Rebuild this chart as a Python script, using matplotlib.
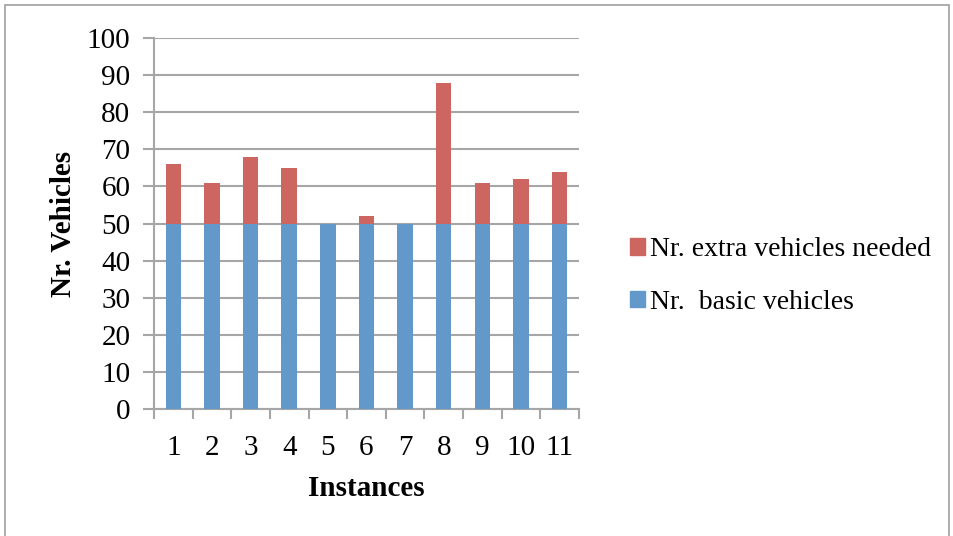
import matplotlib
matplotlib.use("Agg")
import matplotlib.pyplot as plt
from matplotlib.patches import Rectangle, Patch
import numpy as np

instances = ["1", "2", "3", "4", "5", "6", "7", "8", "9", "10", "11"]
basic_vehicles = [50, 50, 50, 50, 50, 50, 50, 50, 50, 50, 50]
extra_vehicles = [16, 11, 18, 15, 0, 2, 0, 38, 11, 12, 14]
y_ticks = [0, 10, 20, 30, 40, 50, 60, 70, 80, 90, 100]

blue = "#6398CA"
red = "#CD6660"
grid_gray = "#A6A6A6"

plt.rcParams["font.family"] = ["Liberation Serif", "DejaVu Serif"]

fig = plt.figure(figsize=(9.54, 5.36), dpi=100)
fig.patches.append(Rectangle((0.005, -0.01), 0.99, 1.0, transform=fig.transFigure,
                             fill=False, edgecolor="#A0A0A0", linewidth=1.2))

ax = fig.add_axes([154 / 954, 1 - 409 / 536, 425 / 954, 371 / 536])
x = np.arange(len(instances))
b1 = ax.bar(x, basic_vehicles, width=0.4, color=blue, zorder=3)
b2 = ax.bar(x, extra_vehicles, width=0.4, bottom=basic_vehicles, color=red, zorder=3)

ax.set_xlim(-0.5, len(instances) - 0.5)
ax.set_ylim(0, 100)
ax.set_yticks(y_ticks)
ax.set_yticklabels([str(v) for v in y_ticks], fontsize=21)
ax.yaxis.grid(True, color=grid_gray, linewidth=1.5, zorder=0)
ax.set_axisbelow(True)

# category labels centred, tick marks at category boundaries
ax.set_xticks(x)
ax.set_xticklabels(instances, fontsize=21)
ax.set_xticks(np.arange(len(instances) + 1) - 0.5, minor=True)
ax.tick_params(axis="x", which="major", length=0, pad=19)
ax.tick_params(axis="x", which="minor", length=7, width=1.5, color=grid_gray, direction="out")
ax.tick_params(axis="y", length=8, width=1.5, color=grid_gray, direction="out", pad=9)

for s in ["top", "right"]:
    ax.spines[s].set_visible(False)
for s in ["left", "bottom"]:
    ax.spines[s].set_color(grid_gray)
    ax.spines[s].set_linewidth(1.5)

ax.set_xlabel("Instances", fontsize=21, fontweight="bold", labelpad=10)
ax.set_ylabel("Nr. Vehicles", fontsize=21, fontweight="bold", labelpad=7)

handles = [Patch(color=red), Patch(color=blue)]
labels = ["Nr. extra vehicles needed", "Nr.  basic vehicles"]
fig.legend(handles, labels, loc="upper left", bbox_to_anchor=(619 / 954, 1 - 226 / 536),
           frameon=False, fontsize=20, handlelength=0.55, handleheight=0.55,
           handletextpad=0.15, labelspacing=1.0, borderaxespad=0)

fig.savefig("out.png", dpi=100)
